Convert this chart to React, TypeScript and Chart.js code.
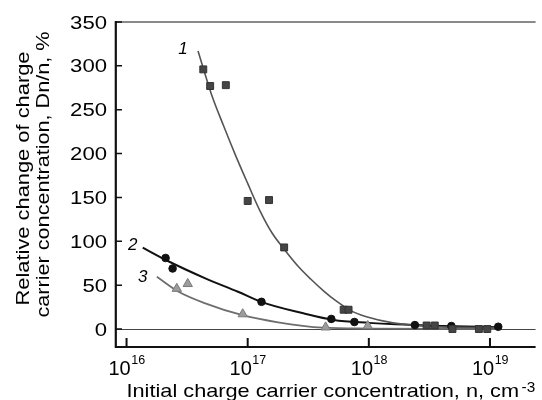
import React, { useEffect, useRef } from "react";
import { Chart, registerables } from "chart.js";

Chart.register(...registerables);

// Series 1 (squares)
const s1N = [4.3e16, 4.9e16, 6.6e16, 1.0e17, 1.5e17, 2.0e17, 6.2e17, 6.8e17, 3.0e18, 3.5e18, 4.9e18, 8.1e18, 9.5e18];
const s1V = [296, 277, 278, 146, 147, 93, 22, 22, 4, 4, 0, 0, 0];
// Series 2 (circles)
const s2N = [2.1e16, 2.4e16, 1.3e17, 4.9e17, 7.6e17, 2.4e18, 4.8e18, 1.17e19];
const s2V = [81, 69, 31, 11.5, 8, 4.5, 3.4, 2.6];
// Series 3 (triangles)
const s3N = [2.6e16, 3.2e16, 9.1e16, 4.4e17, 9.8e17];
const s3V = [46, 51.5, 17, 2, 3.5];

// Fitted curves
const c1N = [3.89e16, 5.01e16, 6.31e16, 7.94e16, 1.0e17, 1.26e17, 1.58e17, 2.0e17, 2.63e17, 3.31e17, 4.27e17, 5.37e17, 7.08e17, 9.55e17, 1.58e18, 3.16e18, 1.17e19];
const c1V = [317, 268, 232, 198, 166, 135, 110, 91, 71, 57, 43, 32, 21, 14, 7, 3, 1.5];
const c2N = [1.36e16, 2.11e16, 4.47e16, 8.32e16, 1.29e17, 2.88e17, 5.13e17, 1.0e18, 1.66e18, 4.0e18, 1.17e19];
const c2V = [92.7, 78.7, 57.8, 42.5, 31, 17.9, 10.3, 7, 5.3, 3.5, 2];
const c3N = [1.78e16, 2.69e16, 4.47e16, 8.91e16, 1.78e17, 4.17e17, 1.0e18, 1.17e19];
const c3V = [59.6, 42.5, 29.3, 16, 7.6, 1.5, 0.5, 0];

// Curve labels
const labelText = ["1", "2", "3"];
const labelN = [2.93e16, 1.125e16, 1.36e16];
const labelV = [320, 97, 60];

// Axes
const yTickValues = [0, 50, 100, 150, 200, 250, 300, 350];
const xTickExponents = [16, 17, 18, 19];
const xMin = 8.03e15;
const xMax = 2.38e19;
const yMin = -20.5;
const yMax = 350;

const yTitleLines = ["Relative change of charge", "carrier concentration, Dn/n, %"];
const xTitleMain = "Initial charge carrier concentration, n, cm";
const xTitleSup = "-3";

const FONT = '"Liberation Sans", Arial, Helvetica, sans-serif';

const pts = (n: number[], v: number[]) => n.map((x, i) => ({ x, y: v[i] }));

function textWidth(ctx: CanvasRenderingContext2D, s: string, size: number) {
  ctx.save();
  ctx.font = `${size}px ${FONT}`;
  const w = ctx.measureText(s).width;
  ctx.restore();
  return w;
}

function drawText(
  ctx: CanvasRenderingContext2D,
  s: string,
  x: number,
  y: number,
  size: number,
  opts: { sx?: number; align?: CanvasTextAlign; italic?: boolean; rot?: number } = {}
) {
  ctx.save();
  ctx.translate(x, y);
  if (opts.rot) ctx.rotate(opts.rot);
  ctx.scale(opts.sx ?? 1, 1);
  ctx.font = `${opts.italic ? "italic " : ""}${size}px ${FONT}`;
  ctx.textAlign = opts.align ?? "left";
  ctx.textBaseline = "alphabetic";
  ctx.fillStyle = "#000";
  ctx.fillText(s, 0, 0);
  ctx.restore();
}

const customPlugin = {
  id: "customDecor",
  beforeDatasetsDraw(chart: any) {
    const ctx = chart.ctx as CanvasRenderingContext2D;
    const { left, right, top } = chart.chartArea;
    const y = chart.scales.y;
    ctx.save();
    const y0 = Math.round(y.getPixelForValue(0)) + 0.5;
    ctx.strokeStyle = "#444";
    ctx.lineWidth = 1;
    ctx.beginPath();
    ctx.moveTo(left, y0);
    ctx.lineTo(right, y0);
    ctx.stroke();
    ctx.strokeStyle = "#8a8a8a";
    ctx.lineWidth = 2;
    ctx.beginPath();
    ctx.moveTo(left, top);
    ctx.lineTo(right, top);
    ctx.stroke();
    ctx.restore();
  },
  afterDraw(chart: any) {
    const ctx = chart.ctx as CanvasRenderingContext2D;
    const { left, right, top, bottom } = chart.chartArea;
    const xs = chart.scales.x;
    const ys = chart.scales.y;
    ctx.save();
    ctx.strokeStyle = "#111";
    ctx.lineWidth = 2.2;
    ctx.beginPath();
    ctx.moveTo(left + 0.8, top - 1);
    ctx.lineTo(left + 0.8, bottom + 1);
    ctx.moveTo(left, bottom);
    ctx.lineTo(right, bottom);
    ctx.stroke();
    ctx.lineWidth = 1.5;
    ctx.beginPath();
    yTickValues.forEach((v) => {
      const py = ys.getPixelForValue(v);
      ctx.moveTo(left, py);
      ctx.lineTo(left + 7, py);
    });
    ctx.stroke();
    ctx.lineWidth = 2;
    ctx.beginPath();
    xTickExponents.forEach((e) => {
      const px = xs.getPixelForValue(Math.pow(10, e));
      ctx.moveTo(px, bottom);
      ctx.lineTo(px, bottom - 9);
    });
    ctx.stroke();
    ctx.restore();

    // y tick labels
    yTickValues.forEach((v) => {
      const py = ys.getPixelForValue(v);
      drawText(ctx, String(v), left - 8, py + 6.6, 18.6, { sx: 1.19, align: "right" });
    });

    // x tick labels 10^e
    xTickExponents.forEach((e) => {
      const px = xs.getPixelForValue(Math.pow(10, e));
      const wBase = textWidth(ctx, "10", 20);
      const wExp = textWidth(ctx, String(e), 12.5);
      const x0 = px - (wBase + wExp) / 2;
      drawText(ctx, "10", x0, 375, 20);
      drawText(ctx, String(e), x0 + wBase + 0.5, 363.5, 12.5);
    });

    // x title (stretched to the reference's width)
    const xStart = 126.5;
    const xEnd = 519;
    const sxT = (xEnd - xStart) / textWidth(ctx, xTitleMain, 18.6);
    drawText(ctx, xTitleMain, xStart, 397, 18.6, { sx: sxT });
    drawText(ctx, xTitleSup, xEnd + 2.5, 391.5, 14, { sx: 1.1 });

    // y title
    const len1 = 254;
    const len2 = 286;
    const sx1 = len1 / textWidth(ctx, yTitleLines[0], 18.6);
    const sx2 = len2 / textWidth(ctx, yTitleLines[1], 18.6);
    drawText(ctx, yTitleLines[0], 28.5, 178.5, 18.6, { sx: sx1, align: "center", rot: -Math.PI / 2 });
    drawText(ctx, yTitleLines[1], 48.5, 174.5, 18.6, { sx: sx2, align: "center", rot: -Math.PI / 2 });

    // curve labels
    labelText.forEach((t, i) => {
      const px = xs.getPixelForValue(labelN[i]);
      const py = ys.getPixelForValue(labelV[i]);
      drawText(ctx, t, px, py + 6, 17, { italic: true, align: "center" });
    });
  },
};

export default function App() {
  const ref = useRef<HTMLCanvasElement | null>(null);
  useEffect(() => {
    if (!ref.current) return;
    const chart = new Chart(ref.current, {
      type: "scatter",
      data: {
        datasets: [
          {
            label: "curve 1",
            data: pts(c1N, c1V),
            showLine: true,
            borderColor: "#555",
            borderWidth: 1.6,
            pointRadius: 0,
            cubicInterpolationMode: "monotone",
            order: 5,
          },
          {
            label: "curve 2",
            data: pts(c2N, c2V),
            showLine: true,
            borderColor: "#111",
            borderWidth: 2,
            pointRadius: 0,
            cubicInterpolationMode: "monotone",
            order: 5,
          },
          {
            label: "curve 3",
            data: pts(c3N, c3V),
            showLine: true,
            borderColor: "#6e6e6e",
            borderWidth: 1.8,
            pointRadius: 0,
            cubicInterpolationMode: "monotone",
            order: 5,
          },
          {
            label: "1",
            data: pts(s1N, s1V),
            showLine: false,
            pointStyle: "rect",
            pointRadius: 4.9,
            backgroundColor: "#454545",
            borderColor: "#333",
            borderWidth: 1,
            order: 1,
          },
          {
            label: "2",
            data: pts(s2N, s2V),
            showLine: false,
            pointStyle: "circle",
            pointRadius: 3.8,
            backgroundColor: "#111",
            borderColor: "#111",
            borderWidth: 1,
            order: 1,
          },
          {
            label: "3",
            data: pts(s3N, s3V),
            showLine: false,
            pointStyle: "triangle",
            pointRadius: 5.4,
            backgroundColor: "#9c9c9c",
            borderColor: "#7a7a7a",
            borderWidth: 1,
            order: 1,
          },
        ],
      } as any,
      options: {
        animation: false,
        responsive: false,
        devicePixelRatio: 1,
        layout: { padding: { top: 22, left: 0, right: 0, bottom: 0 } },
        plugins: { legend: { display: false }, tooltip: { enabled: false }, title: { display: false } },
        scales: {
          x: {
            type: "logarithmic",
            min: xMin,
            max: xMax,
            ticks: { display: false },
            grid: { display: false },
            border: { display: false },
            afterFit: (s: any) => {
              s.height = 53;
            },
          },
          y: {
            type: "linear",
            min: yMin,
            max: yMax,
            ticks: { display: false },
            grid: { display: false },
            border: { display: false },
            afterFit: (s: any) => {
              s.width = 115;
            },
          },
        },
      } as any,
      plugins: [customPlugin],
    });
    return () => chart.destroy();
  }, []);
  return (
    <div style={{ position: "fixed", left: 0, top: 0, width: 542, height: 400, background: "#fff" }}>
      <canvas ref={ref} width={542} height={400} style={{ display: "block" }} />
    </div>
  );
}
